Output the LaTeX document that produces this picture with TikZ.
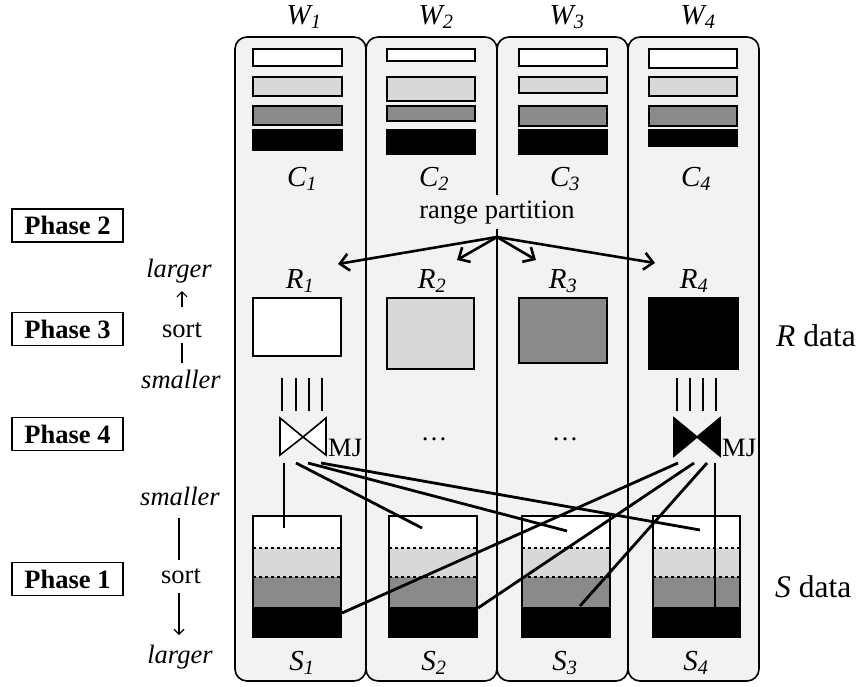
\documentclass[tikz,border=0pt]{standalone}
\usepackage{fontspec}
\setmainfont{Liberation Serif}
\usetikzlibrary{arrows.meta}
\definecolor{panelgray}{RGB}{242,242,242}
\definecolor{lightg}{RGB}{216,216,216}
\definecolor{darkg}{RGB}{138,138,138}
\begin{document}
\begin{tikzpicture}[x=1pt,y=-1pt,
  font=\fontsize{26.5}{30}\selectfont,
  panel/.style={draw, line width=1.6pt, fill=panelgray, rounded corners=12pt, minimum width=131pt, minimum height=644pt, inner sep=0pt},
  lab/.style={anchor=base, inner sep=0pt},
  wlab/.style={anchor=base, inner sep=0pt, font=\fontsize{29}{32}\selectfont\itshape},
  datalab/.style={anchor=base west, inner sep=0pt, font=\fontsize{31.5}{34}\selectfont},
  bar/.style={draw, line width=1.6pt},
  rbox/.style={draw, line width=1.6pt, inner sep=0pt},
  conn/.style={line width=2.8pt},
  pline/.style={line width=2.8pt},
  phasebox/.style={draw, line width=1.3pt, minimum width=111pt, minimum height=33pt, inner sep=0pt, font=\fontsize{26.5}{30}\selectfont\bfseries},
  arr/.style={line width=2.6pt, -{Straight Barb[length=9pt,width=17pt]}},
  smallarr/.style={line width=1.2pt, -{Straight Barb[length=5pt,width=10pt]}},
  thinline/.style={line width=1.2pt},
  bowtie/.style={line width=1.6pt, line join=miter}
]
\useasboundingbox (0,0) rectangle (860,686);

% worker panels
\foreach \i/\cx in {1/300.5,2/431.5,3/562.5,4/693.5}
  \node[panel] (P\i) at (\cx,359) {};

% W labels
\node[wlab] (W1) at (304,24) {W\textsubscript{1}};
\node[wlab] (W2) at (436,24) {W\textsubscript{2}};
\node[wlab] (W3) at (567,24) {W\textsubscript{3}};
\node[wlab] (W4) at (698,24) {W\textsubscript{4}};

% C bars
\foreach \xl/\xr/\a/\b/\c/\d/\e/\f/\g/\h in {253/342/49/66/77/96/106/125/130/150,
  387/475/49/61/77/101/106/121/130/154,
  519/607/49/66/77/93/106/126/130/154,
  649/737/49/68/77/96/106/126/130/146} {
  \draw[bar,fill=white] (\xl,\a) rectangle (\xr,\b);
  \draw[bar,fill=lightg] (\xl,\c) rectangle (\xr,\d);
  \draw[bar,fill=darkg] (\xl,\e) rectangle (\xr,\f);
  \draw[bar,fill=black] (\xl,\g) rectangle (\xr,\h);
}

% C labels
\node[wlab] (C1) at (302,186) {C\textsubscript{1}};
\node[wlab] (C2) at (434,186) {C\textsubscript{2}};
\node[wlab] (C3) at (565,186) {C\textsubscript{3}};
\node[wlab] (C4) at (696,186) {C\textsubscript{4}};

% range partition
\node[anchor=base, fill=panelgray, inner xsep=2pt, inner ysep=5pt] (rp) at (497,218) {range partition};
\coordinate (rpo) at (497,237);
\coordinate (t1) at (338,264);
\coordinate (t2) at (457,260);
\coordinate (t3) at (536,260);
\coordinate (t4) at (655,263);
\foreach \k in {1,2,3,4} \draw[arr] (rpo) -- (t\k);

% R labels
\node[wlab] (R1) at (300,288) {R\textsubscript{1}};
\node[wlab] (R2) at (432,288) {R\textsubscript{2}};
\node[wlab] (R3) at (563,288) {R\textsubscript{3}};
\node[wlab] (R4) at (694,288) {R\textsubscript{4}};

% R boxes
\node[rbox, fill=white, minimum width=88pt, minimum height=58pt] (RB1) at (297,327) {};
\node[rbox, fill=lightg, minimum width=87pt, minimum height=71pt] (RB2) at (430.5,333.5) {};
\node[rbox, fill=darkg, minimum width=88pt, minimum height=65pt] (RB3) at (563,330.5) {};
\node[rbox, fill=black, minimum width=89pt, minimum height=71pt] (RB4) at (693.5,333.5) {};

% parallel lines
\foreach \x in {282,296,309,322} \draw[pline] (\x,378) -- (\x,411);
\foreach \x in {677,690,703,716} \draw[pline] (\x,378) -- (\x,411);

% merge join symbols
\coordinate (J1) at (303,437);
\filldraw[bowtie, fill=white] (280,418) -- (J1) -- (280,455) -- cycle (326,418) -- (J1) -- (326,455) -- cycle;
\coordinate (J4) at (697,437);
\filldraw[bowtie, fill=black] (674,418) -- (J4) -- (674,456) -- cycle (720,418) -- (J4) -- (720,456) -- cycle;
\node[lab, anchor=base west] (MJ1) at (328,456) {MJ};
\node[lab, anchor=base west] (MJ4) at (722,456) {MJ};

% dots
\node[lab] (D2) at (434,440) {\dots};
\node[lab] (D3) at (565,440) {\dots};

% S boxes
\foreach \i/\xl/\xr in {1/253/341, 2/389/477, 3/522/610, 4/653/740} {
  \fill[white] (\xl,516) rectangle (\xr,548);
  \fill[lightg] (\xl,548) rectangle (\xr,577);
  \fill[darkg] (\xl,577) rectangle (\xr,607);
  \fill[black] (\xl,607) rectangle (\xr,637);
  \draw[dashed, thinline] (\xl,548) -- (\xr,548) (\xl,577) -- (\xr,577);
  \draw[line width=1.6pt] (\xl,516) rectangle (\xr,637);
}

% S labels
\node[wlab] (S1) at (302,670) {S\textsubscript{1}};
\node[wlab] (S2) at (434,670) {S\textsubscript{2}};
\node[wlab] (S3) at (565,670) {S\textsubscript{3}};
\node[wlab] (S4) at (696,670) {S\textsubscript{4}};

% connectors from MJ1 to smallest parts
\coordinate (a1) at (284,463); \coordinate (e1) at (284,528);
\coordinate (a2) at (296,463); \coordinate (e2) at (422,528);
\coordinate (a3) at (308,463); \coordinate (e3) at (567,531);
\coordinate (a4) at (321,463); \coordinate (e4) at (700,530);
\foreach \k in {1,2,3,4} \draw[conn] (a\k) -- (e\k);

% connectors from MJ4 to largest parts
\coordinate (b1) at (678,463); \coordinate (f1) at (342,613);
\coordinate (b2) at (694,463); \coordinate (f2) at (478,608);
\coordinate (b3) at (707,463); \coordinate (f3) at (580,606);
\coordinate (b4) at (715,463); \coordinate (f4) at (715,607);
\foreach \k in {1,2,3,4} \draw[conn] (b\k) -- (f\k);

% phase boxes
\node[phasebox] (Ph2) at (67.5,225.5) {Phase 2};
\node[phasebox] (Ph3) at (67.5,329) {Phase 3};
\node[phasebox] (Ph4) at (67.5,434) {Phase 4};
\node[phasebox] (Ph1) at (67.5,579) {Phase 1};

% sort annotations (R)
\node[lab] (lg1) at (179,277) {\textit{larger}};
\node[lab] (so1) at (182,337) {sort};
\node[lab] (sm1) at (181,388) {\textit{smaller}};
\coordinate (u1a) at (182,307); \coordinate (u1b) at (182,291);
\draw[smallarr] (u1a) -- (u1b);
\coordinate (u2a) at (182,343); \coordinate (u2b) at (182,363);
\draw[thinline] (u2a) -- (u2b);

% sort annotations (S)
\node[lab] (sm2) at (180,505) {\textit{smaller}};
\node[lab] (so2) at (181,583) {sort};
\node[lab] (lg2) at (180,663) {\textit{larger}};
\coordinate (d1a) at (179,518); \coordinate (d1b) at (179,560);
\draw[thinline] (d1a) -- (d1b);
\coordinate (d2a) at (179,593); \coordinate (d2b) at (179,635);
\draw[smallarr] (d2a) -- (d2b);

% data labels
\node[datalab] (Rdata) at (776,346) {\textit{R} data};
\node[datalab] (Sdata) at (775,597) {\textit{S} data};
\end{tikzpicture}
\end{document}
